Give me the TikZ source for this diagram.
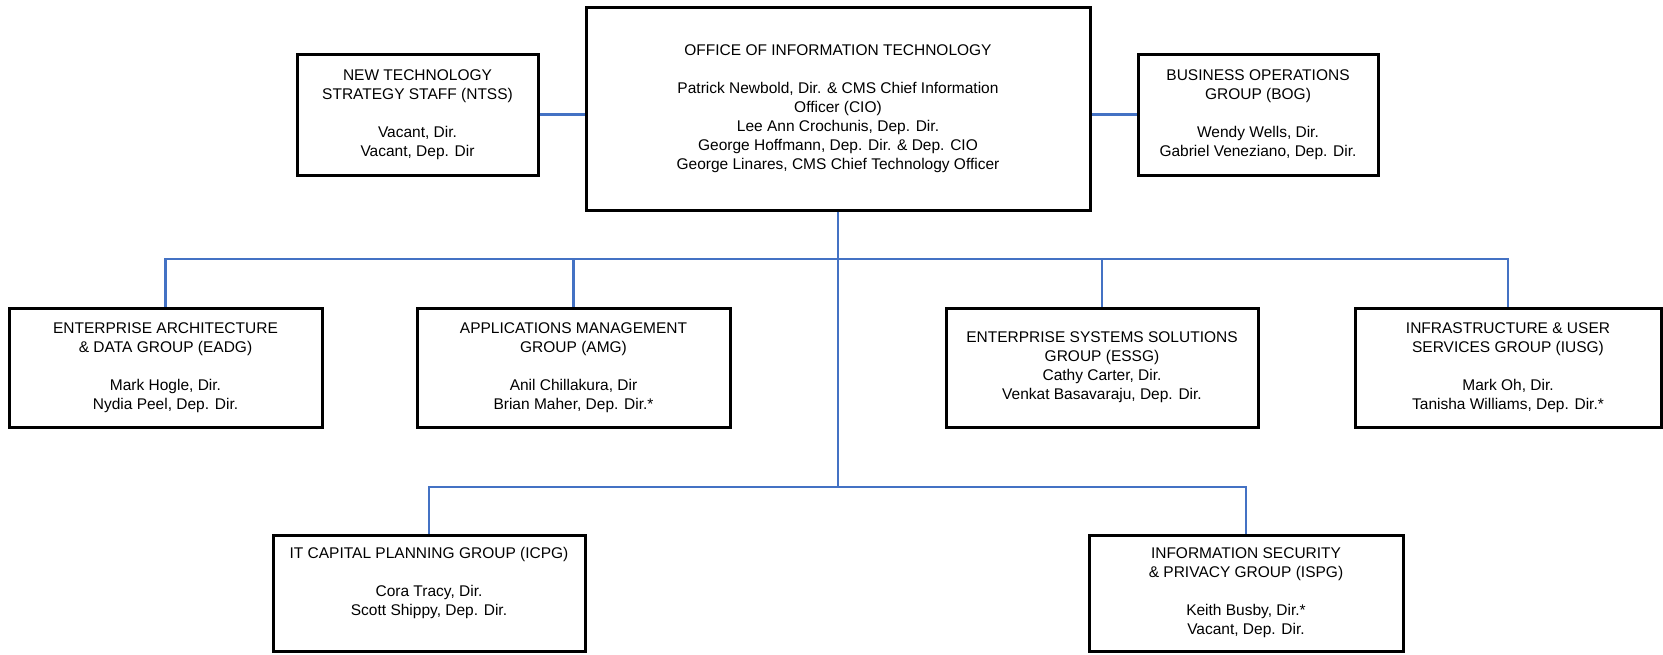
\documentclass[tikz,border=0pt]{standalone}
\usepackage{fontspec}
\setmainfont{Liberation Sans}
\definecolor{linkblue}{RGB}{68,114,196}

\begin{document}
\begin{tikzpicture}[x=1pt, y=-1pt,
    box/.style={rectangle, draw, line width=3pt, align=center, inner sep=0pt, font=\fontsize{15.5}{19}\selectfont},
    boxtext/.style={align=center, inner sep=0pt, font=\fontsize{15.5}{19}\selectfont},
    link/.style={draw=linkblue, line width=2.5pt}]
    \useasboundingbox (0,0) rectangle (1663,654);
    %tikz org chart, top row
    \node[box, minimum width=504pt, minimum height=203pt] at (838,108.5) (oit){ OFFICE OF INFORMATION TECHNOLOGY\\[19pt] Patrick Newbold, Dir. \& CMS Chief Information\\ Officer (CIO)\\ Lee Ann Crochunis, Dep. Dir.\\ George Hoffmann, Dep. Dir. \& Dep. CIO\\ George Linares, CMS Chief Technology Officer };
    \node[box, minimum width=241pt, minimum height=121pt] at (417.5,114.5) (ntss){ NEW TECHNOLOGY\\ STRATEGY STAFF (NTSS)\\[19pt] Vacant, Dir.\\ Vacant, Dep. Dir };
    \node[box, minimum width=240pt, minimum height=121pt] at (1258,114.5) (bog){ BUSINESS OPERATIONS\\ GROUP (BOG)\\[19pt] Wendy Wells, Dir.\\ Gabriel Veneziano, Dep. Dir. };
    %groups
    \node[box, minimum width=313pt, minimum height=119pt] at (165.5,367.5) (eadg){ ENTERPRISE ARCHITECTURE\\ \& DATA GROUP (EADG)\\[19pt] Mark Hogle, Dir.\\ Nydia Peel, Dep. Dir. };
    \node[box, minimum width=313pt, minimum height=119pt] at (573.5,367.5) (amg){ APPLICATIONS MANAGEMENT\\ GROUP (AMG)\\[19pt] Anil Chillakura, Dir\\ Brian Maher, Dep. Dir.* };
    \node[box, minimum width=312pt, minimum height=119pt] at (1102,367.5) (essg){ ENTERPRISE SYSTEMS SOLUTIONS\\ GROUP (ESSG)\\ Cathy Carter, Dir.\\ Venkat Basavaraju, Dep. Dir. };
    \node[box, minimum width=306pt, minimum height=119pt] at (1508,367.5) (iusg){ INFRASTRUCTURE \& USER\\ SERVICES GROUP (IUSG)\\[19pt] Mark Oh, Dir.\\ Tanisha Williams, Dep. Dir.* };
    \node[box, minimum width=312pt, minimum height=116pt] at (429,593) (icpg){};
    \node[boxtext, anchor=north, yshift=-14pt] at (icpg.north) (icpgtext){ IT CAPITAL PLANNING GROUP (ICPG)\\[19pt] Cora Tracy, Dir.\\ Scott Shippy, Dep. Dir. };
    \node[box, minimum width=314pt, minimum height=116pt] at (1246,593) (ispg){};
    \node[boxtext, anchor=north, yshift=-14pt] at (ispg.north) (ispgtext){ INFORMATION SECURITY\\ \& PRIVACY GROUP (ISPG)\\[19pt] Keith Busby, Dir.*\\ Vacant, Dep. Dir. };
    %connectors
    \coordinate (topbus) at (838,259);
    \coordinate (lowbus) at (838,487);
    \draw[link] (ntss.east) -- (ntss.east -| oit.west);
    \draw[link] (bog.west) -- (bog.west -| oit.east);
    \draw[link] (oit.south) -- (lowbus);
    \draw[link] (eadg.north) |- (topbus) -| (iusg.north);
    \draw[link] (amg.north) -- (amg.north |- topbus);
    \draw[link] (essg.north) -- (essg.north |- topbus);
    \draw[link] (icpg.north) |- (lowbus) -| (ispg.north);
\end{tikzpicture}
\end{document}
